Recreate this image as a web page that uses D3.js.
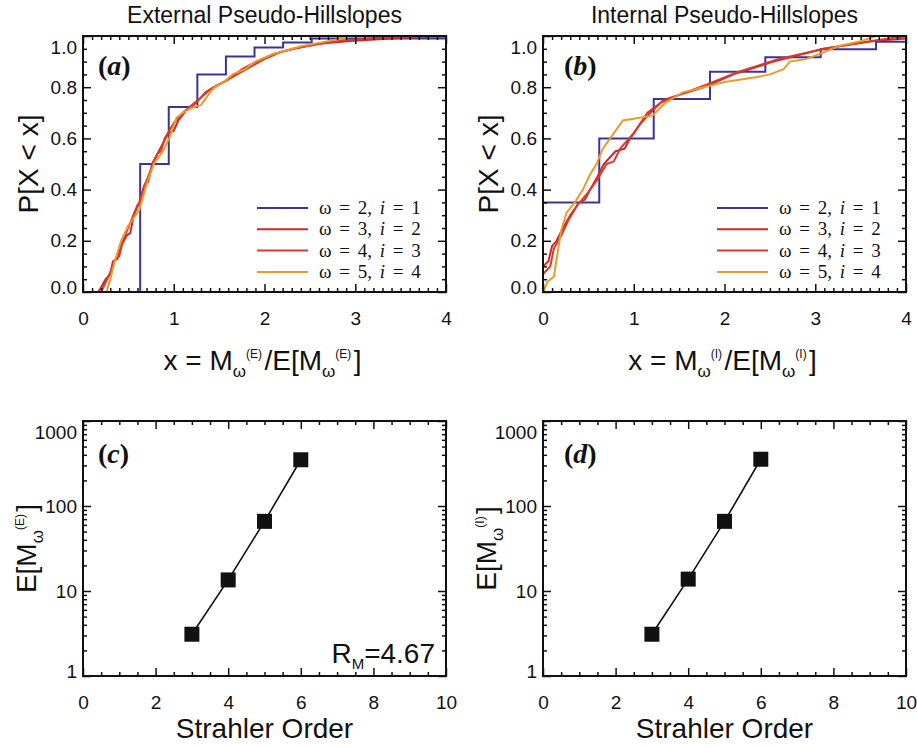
<!DOCTYPE html>
<html>
<head>
<meta charset="utf-8">
<script src="https://cdn.jsdelivr.net/npm/d3@7"></script>
<style>
  body { margin: 0; background: #fff; }
  svg text { font-family: "Liberation Sans", Arial, sans-serif; }
</style>
</head>
<body>
<svg id="fig" width="917" height="748"></svg>
<script>
// ---- data ----
var legendOmega = [2, 3, 4, 5];
var legendI = [1, 2, 3, 4];
var seriesColors = ['#3a3499', '#c9282c', '#d53d2a', '#ec9a2b'];

var xTicks = [0, 1, 2, 3, 4];
var yTicks = [0, 0.2, 0.4, 0.6, 0.8, 1.0];

// external pseudo-hillslopes, [x, P]
var extOmega2 = [[0.63,0],[0.63,0.5],[0.945,0.723],[1.26,0.85],[1.575,0.92],[1.89,0.955],[2.205,0.975],[2.52,0.99],[4,1.0]];
var extOmega3 = [[0.17,0],[0.25,0.05],[0.3,0.07],[0.33,0.12],[0.38,0.13],[0.42,0.18],[0.48,0.22],[0.52,0.23],[0.56,0.3],[0.62,0.35],[0.68,0.42],[0.72,0.43],[0.76,0.5],[0.85,0.56],[0.94,0.62],[1.0,0.63],[1.05,0.67],[1.14,0.71],[1.25,0.74],[1.35,0.78],[1.44,0.8],[1.6,0.83],[1.75,0.87],[1.91,0.9],[2.1,0.93],[2.32,0.95],[2.6,0.97],[2.94,0.98],[3.4,0.99],[4,1.0]];
var extOmega4 = [[0.2,0],[0.28,0.06],[0.36,0.13],[0.4,0.14],[0.44,0.2],[0.52,0.27],[0.6,0.34],[0.63,0.35],[0.66,0.4],[0.74,0.47],[0.82,0.54],[0.86,0.55],[0.9,0.6],[1.0,0.66],[1.1,0.7],[1.2,0.73],[1.3,0.76],[1.4,0.79],[1.55,0.82],[1.7,0.85],[1.85,0.88],[2.0,0.91],[2.2,0.94],[2.45,0.96],[2.8,0.98],[3.3,0.995],[4,1.0]];
var extOmega5 = [[0.26,0],[0.3,0.05],[0.35,0.12],[0.42,0.2],[0.5,0.26],[0.62,0.32],[0.7,0.42],[0.78,0.5],[0.88,0.55],[0.95,0.6],[1.03,0.68],[1.1,0.7],[1.2,0.72],[1.3,0.73],[1.4,0.78],[1.45,0.8],[1.55,0.82],[1.65,0.85],[1.78,0.87],[1.9,0.9],[2.1,0.93],[2.4,0.96],[2.7,0.98],[3.0,1.0]];

// internal pseudo-hillslopes, [x, P]
var intOmega2 = [[0,0],[0,0.35],[0.62,0.6],[1.22,0.754],[1.84,0.86],[2.45,0.917],[3.06,0.948],[3.67,0.978],[4,0.978]];
var intOmega3 = [[0,0],[0,0.1],[0.06,0.12],[0.1,0.18],[0.15,0.2],[0.22,0.25],[0.3,0.3],[0.4,0.35],[0.46,0.36],[0.52,0.4],[0.6,0.45],[0.67,0.5],[0.8,0.55],[0.9,0.56],[0.96,0.6],[1.08,0.66],[1.18,0.7],[1.33,0.75],[1.5,0.77],[1.77,0.8],[2.1,0.85],[2.54,0.9],[3.09,0.95],[3.64,0.98],[4,0.99]];
var intOmega4 = [[0,0],[0,0.07],[0.08,0.1],[0.12,0.17],[0.2,0.22],[0.28,0.28],[0.38,0.34],[0.5,0.39],[0.6,0.44],[0.7,0.5],[0.78,0.51],[0.85,0.56],[1.0,0.62],[1.15,0.7],[1.3,0.74],[1.5,0.77],[1.8,0.81],[2.15,0.86],[2.6,0.91],[3.1,0.95],[3.6,0.98],[4,1.0]];
var intOmega5 = [[0,0],[0.05,0.04],[0.12,0.06],[0.16,0.15],[0.2,0.24],[0.26,0.31],[0.35,0.35],[0.44,0.4],[0.52,0.46],[0.59,0.5],[0.66,0.56],[0.74,0.6],[0.88,0.67],[1.05,0.68],[1.21,0.69],[1.35,0.74],[1.54,0.78],[1.77,0.8],[2.0,0.82],[2.36,0.84],[2.5,0.85],[2.65,0.87],[2.72,0.9],[2.9,0.91],[3.05,0.93],[3.25,0.96],[3.5,0.98],[3.68,1.0]];

// mean size vs Strahler order
var orders = [3, 4, 5, 6];
var extMean = [3.1, 13.5, 66, 350];
var intMean = [3.1, 13.8, 66, 355];
var orderTicks = [0, 2, 4, 6, 8, 10];
var meanTicks = [1, 10, 100, 1000];

var svg = d3.select('#fig');
var serif = '"Liberation Serif", "Times New Roman", serif';

function styleAxis(a, size) {
  a.attr('font-size', size).attr('font-family', '"Liberation Sans", Arial, sans-serif');
  a.select('.domain').remove();
  a.selectAll('.tick line').attr('stroke', '#111').attr('stroke-width', 1.5);
  a.selectAll('.tick text').attr('fill', '#111');
}

function boxAxes(g, x, y, w, h, o) {
  // majors with labels
  var b = g.append('g').attr('transform', 'translate(0,' + h + ')')
    .call(d3.axisBottom(x).tickValues(o.xMajor).tickSize(-8).tickPadding(20).tickFormat(o.xFmt));
  styleAxis(b, 19);
  var l = g.append('g')
    .call(d3.axisLeft(y).tickValues(o.yMajor).tickSize(-8).tickPadding(6).tickFormat(o.yFmt));
  styleAxis(l, 19);
  // the end labels sit a little inside the box in the original
  l.selectAll('.tick text').filter(function(d){ return d === o.yMajor[0]; }).attr('y', -5);
  l.selectAll('.tick text').filter(function(d){ return d === o.yMajor[o.yMajor.length-1]; }).attr('y', 11);
  var t = g.append('g').call(d3.axisTop(x).tickValues(o.xMajor).tickSize(-8).tickFormat(''));
  styleAxis(t, 19);
  var r = g.append('g').attr('transform', 'translate(' + w + ',0)')
    .call(d3.axisRight(y).tickValues(o.yMajor).tickSize(-8).tickFormat(''));
  styleAxis(r, 19);
  // minors
  [[d3.axisBottom(x).tickValues(o.xMinor), 'translate(0,' + h + ')'],
   [d3.axisTop(x).tickValues(o.xMinor), null],
   [d3.axisLeft(y).tickValues(o.yMinor), null],
   [d3.axisRight(y).tickValues(o.yMinor), 'translate(' + w + ',0)']].forEach(function(p){
    var m = g.append('g').call(p[0].tickSize(-4).tickFormat(''));
    if (p[1]) m.attr('transform', p[1]);
    styleAxis(m, 10);
  });
  g.append('rect').attr('width', w).attr('height', h)
    .attr('fill', 'none').attr('stroke', '#111').attr('stroke-width', 2);
}

function mTerm(t, tag) {
  t.append('tspan').text('M');
  t.append('tspan').attr('font-size', 17).attr('dy', 7).text('ω');
  t.append('tspan').attr('font-size', 12).attr('dy', -19).text('(' + tag + ')');
  t.append('tspan').attr('dy', 12).text('\u200a');
}

function cdfPanel(o) {
  var w = 363, h = 256;
  var g = svg.append('g').attr('transform', 'translate(' + o.left + ',' + o.top + ')');
  var x = d3.scaleLinear().domain([0, 4]).range([0, w]);
  var y = d3.scaleLinear().domain([0, 1]).range([h, 0]);

  var clip = 'clip-' + o.id;
  g.append('clipPath').attr('id', clip).append('rect').attr('width', w).attr('height', h);

  var step = d3.line().x(function(d){ return x(d[0]); }).y(function(d){ return y(d[1]); }).curve(d3.curveStepAfter);
  var lin = d3.line().x(function(d){ return x(d[0]); }).y(function(d){ return y(d[1]); });

  var curves = g.append('g').attr('clip-path', 'url(#' + clip + ')');
  o.series.forEach(function(s, i){
    curves.append('path').datum(s)
      .attr('d', i === 0 ? step : lin)
      .attr('fill', 'none')
      .attr('stroke', seriesColors[i])
      .attr('stroke-width', 2);
  });

  boxAxes(g, x, y, w, h, {
    xMajor: xTicks, xFmt: d3.format('d'),
    yMajor: yTicks, yFmt: d3.format('.1f'),
    xMinor: d3.range(0, 40).map(function(k){ return k / 10; }).filter(function(v){ return v % 1 !== 0; }),
    yMinor: d3.range(0, 20).map(function(k){ return k / 20; }).filter(function(v){ return Math.round(v * 20) % 4 !== 0; })
  });

  // legend
  var lg = g.append('g');
  legendOmega.forEach(function(om, i){
    var yy = 172 + i * 21.3;
    lg.append('line').attr('x1', 174).attr('x2', 225).attr('y1', yy).attr('y2', yy)
      .attr('stroke', seriesColors[i]).attr('stroke-width', 2);
    var t = lg.append('text').attr('x', 236).attr('y', yy + 6)
      .attr('font-size', 19).style('font-family', serif).attr('fill', '#111')
      .style('word-spacing', '3px');
    t.append('tspan').text('ω = ' + om + ', ');
    t.append('tspan').attr('font-style', 'italic').text('i');
    t.append('tspan').text(' = ' + legendI[i]);
  });

  g.append('text').attr('x', o.labX).attr('y', 39)
    .attr('font-size', 28).attr('font-weight', 'bold')
    .style('font-family', serif).attr('fill', '#111')
    .html('(<tspan font-style="italic">' + o.letter + '</tspan>)');

  g.append('text').attr('x', w / 2).attr('y', -13).attr('text-anchor', 'middle')
    .attr('font-size', 23).attr('fill', '#111').text(o.title);

  g.append('text').attr('transform', 'translate(-45,' + (h / 2) + ') rotate(-90)')
    .attr('text-anchor', 'middle').attr('font-size', 28).attr('fill', '#111')
    .text('P[X < x]');

  var xl = g.append('text').attr('x', w / 2 - 2).attr('y', h + 78).attr('text-anchor', 'middle')
    .attr('font-size', 28).attr('fill', '#111');
  xl.append('tspan').text('x = ');
  mTerm(xl, o.tag);
  xl.append('tspan').text('/E[');
  mTerm(xl, o.tag);
  xl.append('tspan').text(']');
}

function orderPanel(o) {
  var w = 363, h = 255;
  var g = svg.append('g').attr('transform', 'translate(' + o.left + ',' + o.top + ')');
  var x = d3.scaleLinear().domain([0, 10]).range([0, w]);
  var y = d3.scaleLog().domain([1, 1000]).range([h, 0]);

  var minorLog = [];
  [1, 10, 100].forEach(function(d){ for (var k = 2; k < 10; k++) minorLog.push(d * k); });

  boxAxes(g, x, y, w, h, {
    xMajor: orderTicks, xFmt: d3.format('d'),
    yMajor: meanTicks, yFmt: d3.format('d'),
    xMinor: d3.range(0, 20).map(function(k){ return k / 2; }).filter(function(v){ return v % 2 !== 0; }),
    yMinor: minorLog
  });

  var pts = orders.map(function(s, i){ return [s, o.values[i]]; });
  g.append('path').datum(pts)
    .attr('d', d3.line().x(function(d){ return x(d[0]); }).y(function(d){ return y(d[1]); }))
    .attr('fill', 'none').attr('stroke', '#111').attr('stroke-width', 1.6);
  g.selectAll('.sq').data(pts).enter().append('rect')
    .attr('class', 'sq')
    .attr('x', function(d){ return x(d[0]) - 7.5; })
    .attr('y', function(d){ return y(d[1]) - 7.5; })
    .attr('width', 15).attr('height', 15).attr('fill', '#111');

  g.append('text').attr('x', o.labX).attr('y', 42)
    .attr('font-size', 28).attr('font-weight', 'bold')
    .style('font-family', serif).attr('fill', '#111')
    .html('(<tspan font-style="italic">' + o.letter + '</tspan>)');

  var yl = g.append('text').attr('transform', 'translate(-47,' + (h / 2) + ') rotate(-90)')
    .attr('text-anchor', 'middle').attr('font-size', 28).attr('fill', '#111');
  yl.append('tspan').text('E[');
  mTerm(yl, o.tag);
  yl.append('tspan').text(']');

  g.append('text').attr('x', w / 2).attr('y', h + 62).attr('text-anchor', 'middle')
    .attr('font-size', 28).attr('fill', '#111').text('Strahler Order');

  if (o.ratio) {
    var rt = g.append('text').attr('x', w - 11).attr('y', h - 13).attr('text-anchor', 'end')
      .attr('font-size', 28).attr('fill', '#111');
    rt.append('tspan').text('R');
    rt.append('tspan').attr('font-size', 15).attr('dy', 6).text('M');
    rt.append('tspan').attr('dy', -6).text('=' + o.ratio);
  }
}

cdfPanel({ id: 'a', left: 83, top: 36, letter: 'a', labX: 15, tag: 'E', title: 'External Pseudo-Hillslopes',
  series: [extOmega2, extOmega3, extOmega4, extOmega5] });
cdfPanel({ id: 'b', left: 543, top: 36, letter: 'b', labX: 21, tag: 'I', title: 'Internal Pseudo-Hillslopes',
  series: [intOmega2, intOmega3, intOmega4, intOmega5] });
orderPanel({ left: 83, top: 421, letter: 'c', labX: 15, tag: 'E', values: extMean, ratio: '4.67' });
orderPanel({ left: 543, top: 421, letter: 'd', labX: 21, tag: 'I', values: intMean });
</script>
</body>
</html>
